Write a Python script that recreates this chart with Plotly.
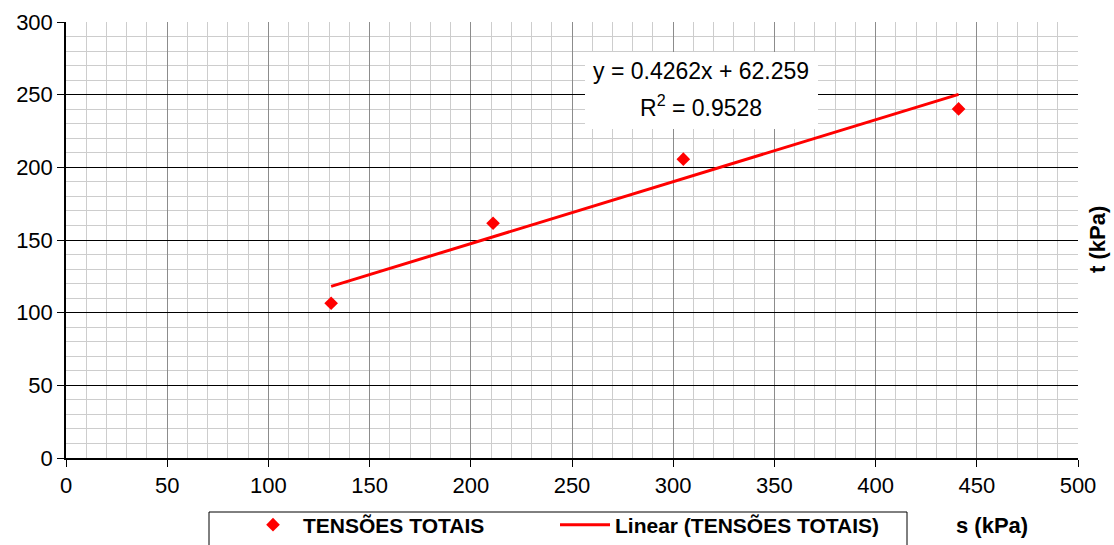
import plotly.graph_objects as go

# data
s_kpa = [131, 211, 305, 441]
t_kpa = [106.5, 161.5, 205.6, 240.2]
slope = 0.4262
intercept = 62.259
r2 = 0.9528
series_name = "TENSÕES TOTAIS"
trend_name = "Linear (TENSÕES TOTAIS)"
x_ticks = [0, 50, 100, 150, 200, 250, 300, 350, 400, 450, 500]
y_ticks = [0, 50, 100, 150, 200, 250, 300]

x_fit = [min(s_kpa), max(s_kpa)]
y_fit = [slope * v + intercept for v in x_fit]

FONT = "Liberation Sans, Arial, sans-serif"
L, R, T, B = 66, 36, 22, 87
W, H = 1114, 545
PW, PH = W - L - R, H - T - B


def px(xp):
    return (xp - L) / PW


def py(yp):
    return (H - B - yp) / PH


fig = go.Figure()
fig.add_trace(go.Scatter(
    x=s_kpa, y=t_kpa, mode="markers", name=series_name, legend="legend",
    marker=dict(symbol="diamond", size=10.5, color="#ff0000", line=dict(width=0)),
))
fig.add_trace(go.Scatter(
    x=x_fit, y=y_fit, mode="lines", name=trend_name, legend="legend2",
    line=dict(color="#ff0000", width=3),
))

legend_common = dict(
    orientation="h", yanchor="middle", xanchor="left",
    borderwidth=0, bgcolor="rgba(0,0,0,0)",
    font=dict(family=FONT, size=21, color="black", weight="bold"),
    itemwidth=50,
)

fig.update_layout(
    width=W, height=H,
    margin=dict(l=L, r=R, t=T, b=B, autoexpand=False),
    paper_bgcolor="white", plot_bgcolor="white",
    font=dict(family=FONT, size=22, color="black"),
    showlegend=True,
    legend=dict(x=px(243), y=py(525), **legend_common),
    legend2=dict(x=px(555), y=py(525), **legend_common),
    xaxis=dict(
        range=[0, 500], tickvals=x_ticks, ticks="outside", ticklen=7,
        tickcolor="black", showline=True, linecolor="black", linewidth=1.5,
        showgrid=True, gridcolor="#8c8c8c", gridwidth=1.2, zeroline=False,
        minor=dict(dtick=10, showgrid=True, gridcolor="#cdcdcd", gridwidth=1),
        tickfont=dict(size=22), automargin=False,
    ),
    yaxis=dict(
        range=[0, 300], tickvals=y_ticks, ticks="outside", ticklen=7,
        tickcolor="black", showline=True, linecolor="black", linewidth=1.5,
        showgrid=True, gridcolor="black", gridwidth=1.2, zeroline=False,
        minor=dict(dtick=10, showgrid=True, gridcolor="#cdcdcd", gridwidth=1),
        tickfont=dict(size=22), automargin=False,
    ),
)

# legend frame
fig.add_shape(type="rect", xref="paper", yref="paper",
              x0=px(209), x1=px(907), y0=py(548), y1=py(512),
              line=dict(color="black", width=1), fillcolor="rgba(0,0,0,0)")

# white box behind trendline equation
fig.add_shape(type="rect", xref="paper", yref="paper",
              x0=px(585), x1=px(818), y0=py(129), y1=py(52),
              fillcolor="white", line=dict(width=0), layer="above")
fig.add_annotation(xref="paper", yref="paper", x=px(701), y=py(71),
                   xanchor="center", yanchor="middle",
                   text=f"y = {slope}x + {intercept}", showarrow=False,
                   font=dict(family=FONT, size=23, color="black"))
fig.add_annotation(xref="paper", yref="paper", x=px(701), y=py(106),
                   xanchor="center", yanchor="middle",
                   text=f"R<sup>2</sup> = {r2}", showarrow=False,
                   font=dict(family=FONT, size=23, color="black"))

fig.add_annotation(xref="paper", yref="paper", x=px(992), y=py(525),
                   xanchor="center", yanchor="middle",
                   text="<b>s (kPa)</b>", showarrow=False,
                   font=dict(family=FONT, size=22, color="black"))
fig.add_annotation(xref="paper", yref="paper", x=px(1097), y=py(240),
                   xanchor="center", yanchor="middle",
                   text="<b>t (kPa)</b>", showarrow=False, textangle=-90,
                   font=dict(family=FONT, size=22, color="black"))

fig.write_html("out.html", config={"displayModeBar": False},
               post_script="document.body.style.margin='0';")
